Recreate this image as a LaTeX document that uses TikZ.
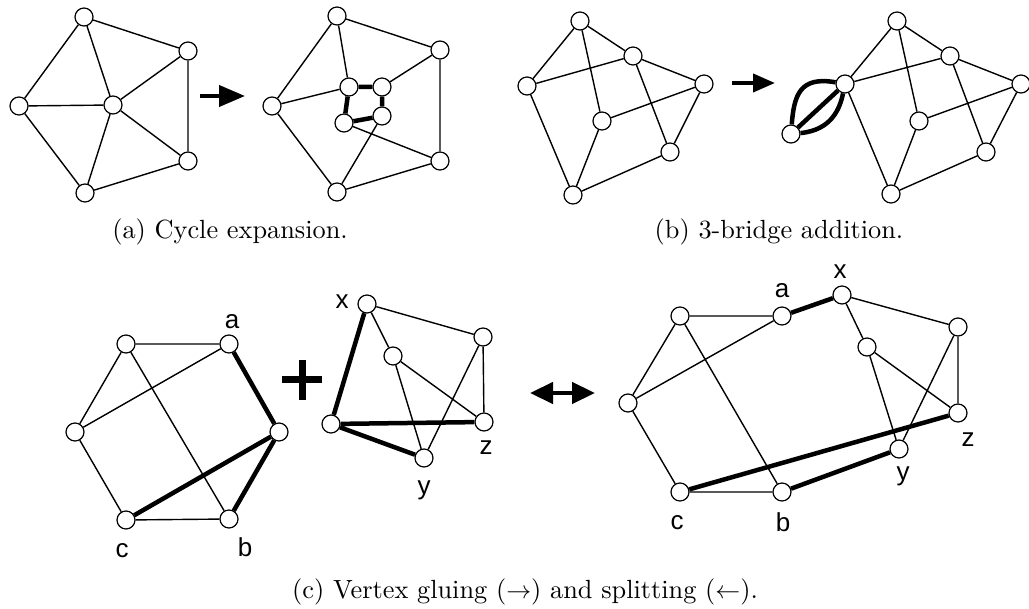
\documentclass[tikz,border=0pt]{standalone}
\usepackage{fontspec}
\newfontfamily\labfont{Liberation Sans}
\newfontfamily\capfont{lmroman10-regular}[Extension=.otf]
\usetikzlibrary{arrows.meta}
\begin{document}
\begin{tikzpicture}[x=1pt,y=-1pt,
  v/.style={circle,draw,fill=white,minimum size=18pt,inner sep=0pt,line width=1.2pt},
  e/.style={line width=1.4pt},
  te/.style={line width=4.5pt},
  lbl/.style={font=\labfont\fontsize{26}{28}\selectfont,inner sep=0pt},
  captxt/.style={font=\capfont\fontsize{26.3}{30}\selectfont,inner sep=0pt,anchor=base},
  bigarrow/.style={line width=4pt,-{Triangle[length=26pt,width=21pt]}}]
\useasboundingbox (0,0) rectangle (1029,609);

% ---------- (a) left
\node[v] (a1) at (84,17) {};
\node[v] (a2) at (188,51) {};
\node[v] (a3) at (19,106) {};
\node[v] (a4) at (113,105) {};
\node[v] (a5) at (188,161) {};
\node[v] (a6) at (85,193) {};
\draw[e] (a1)--(a3) (a1)--(a4) (a1)--(a2) (a2)--(a4) (a2)--(a5) (a3)--(a4)
  (a3)--(a6) (a4)--(a6) (a4)--(a5) (a6)--(a5);

\coordinate (arA1) at (200,96);
\coordinate (arA2) at (245,96);
\draw[bigarrow] (arA1)--(arA2);

% ---------- (a) right
\node[v] (p1) at (337,16) {};
\node[v] (p2) at (440,50) {};
\node[v] (p3) at (272,106) {};
\node[v] (p4) at (337,192) {};
\node[v] (p5) at (440,161) {};
\node[v] (qA) at (349,87) {};
\node[v] (qB) at (382,87) {};
\node[v] (qC) at (382,116) {};
\node[v] (qD) at (344,123) {};
\draw[e] (p1)--(qA) (p1)--(p3) (p1)--(p2) (p3)--(qA) (p3)--(p4) (qB)--(p2)
  (p2)--(p5) (qD)--(p5) (qC)--(p4) (p4)--(p5);
\draw[te] (qA)--(qB) (qB)--(qC) (qC)--(qD) (qD)--(qA);

\node[captxt] (capA) at (230,239) {(a) Cycle expansion.};

% ---------- (b) left
\node[v] (b1) at (580,21) {};
\node[v] (b2) at (633,56) {};
\node[v] (b3) at (527,86) {};
\node[v] (b4) at (704,84) {};
\node[v] (b5) at (602,121) {};
\node[v] (b6) at (670,152) {};
\node[v] (b7) at (573,195) {};
\draw[e] (b1)--(b3) (b1)--(b2) (b1)--(b5) (b3)--(b2) (b2)--(b4) (b2)--(b6)
  (b3)--(b7) (b5)--(b4) (b5)--(b7) (b4)--(b6) (b7)--(b6);

\coordinate (arB1) at (732,83);
\coordinate (arB2) at (775,83);
\draw[line width=4pt,-{Triangle[length=22pt,width=18pt]}] (arB1)--(arB2);

% ---------- (b) right
\node[v] (d1) at (897,21) {};
\node[v] (d2) at (950,56) {};
\node[v] (d3) at (845,84) {};
\node[v] (d4) at (1021,84) {};
\node[v] (d5) at (919,121) {};
\node[v] (d6) at (986,152) {};
\node[v] (d7) at (891,194) {};
\node[v] (br) at (791,134) {};
\draw[e] (d1)--(d3) (d1)--(d2) (d1)--(d5) (d3)--(d2) (d2)--(d4) (d2)--(d6)
  (d3)--(d7) (d5)--(d4) (d5)--(d7) (d4)--(d6) (d7)--(d6);
\draw[te] (br)--(d3);
\draw[te] (br) .. controls (794,95) and (800,76) .. (d3);
\draw[te] (br) .. controls (832,130) and (840,108) .. (d3);

\node[captxt] (capB) at (779,239) {(b) 3-bridge addition.};

% ---------- (c) left
\node[v] (cTL) at (126,344) {};
\node[v] (ca) at (229,344) {};
\node[v] (cL) at (75,432) {};
\node[v] (cR) at (279,432) {};
\node[v] (cc) at (126,520) {};
\node[v] (cb) at (229,519) {};
\draw[e] (cTL)--(ca) (cTL)--(cL) (cTL)--(cb) (cL)--(ca) (cL)--(cc) (cc)--(cb);
\draw[te] (ca)--(cR) (cR)--(cc) (cR)--(cb);
\node[lbl] (la1) at (232,322) {a};
\node[lbl] (lc1) at (122,551) {c};
\node[lbl] (lb1) at (245,547) {b};

% plus
\coordinate (plL) at (282,380);
\coordinate (plR) at (322,380);
\coordinate (plT) at (302,360);
\coordinate (plB) at (302,400);
\draw[line width=7pt] (plL)--(plR) (plT)--(plB);

% ---------- (c) middle
\node[v] (mx) at (367,304) {};
\node[v] (mtr) at (483,337) {};
\node[v] (mi) at (393,356) {};
\node[v] (ml) at (331,424) {};
\node[v] (mz) at (484,422) {};
\node[v] (my) at (424,458) {};
\draw[e] (mx)--(mtr) (mx)--(mi) (mi)--(mz) (mi)--(my) (mtr)--(mz) (mtr)--(my);
\draw[te] (mx)--(ml) (ml)--(mz) (ml)--(my);
\node[lbl] (lx2) at (342,302) {x};
\node[lbl] (lz2) at (486,448) {z};
\node[lbl] (ly2) at (424,490) {y};

% double arrow
\coordinate (dbL) at (530,393);
\coordinate (dbR) at (595,393);
\draw[line width=4.5pt,{Triangle[length=23pt,width=21pt]}-{Triangle[length=23pt,width=21pt]}] (dbL)--(dbR);

% ---------- (c) right
\node[v] (rTL) at (680,316) {};
\node[v] (ra) at (782,316) {};
\node[v] (rx) at (842,295) {};
\node[v] (rtr) at (958,327) {};
\node[v] (ri) at (867,347) {};
\node[v] (rL) at (628,403) {};
\node[v] (rz) at (958,413) {};
\node[v] (ry) at (899,449) {};
\node[v] (rc) at (680,492) {};
\node[v] (rb) at (782,492) {};
\draw[e] (rTL)--(ra) (rTL)--(rL) (rTL)--(rb) (rL)--(ra) (rL)--(rc) (rc)--(rb)
  (rx)--(rtr) (rx)--(ri) (ri)--(rz) (ri)--(ry) (rtr)--(rz) (rtr)--(ry);
\draw[te] (ra)--(rx) (rc)--(rz) (rb)--(ry);
\node[lbl] (la3) at (782,291) {a};
\node[lbl] (lx3) at (840,272) {x};
\node[lbl] (lz3) at (968,440) {z};
\node[lbl] (ly3) at (903,476) {y};
\node[lbl] (lc3) at (677,523) {c};
\node[lbl] (lb3) at (783,522) {b};

\node[captxt] (capC) at (525,598) {(c) Vertex gluing ($\rightarrow$) and splitting ($\leftarrow$).};
\end{tikzpicture}
\end{document}
